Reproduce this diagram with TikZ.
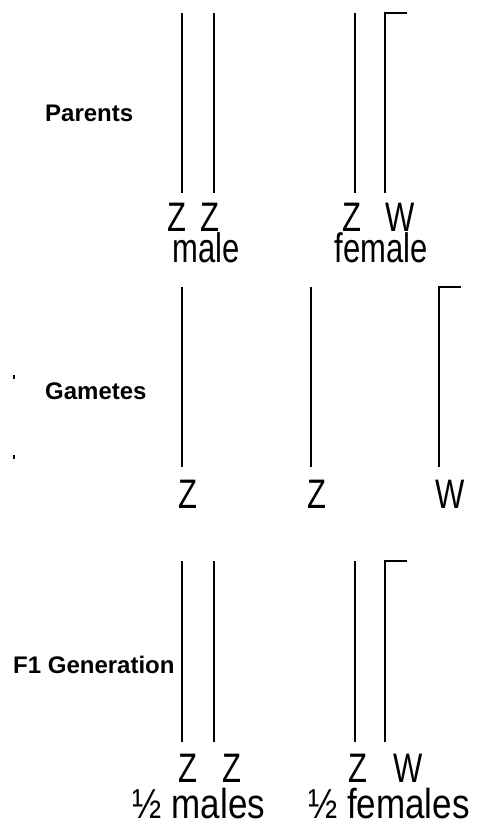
\documentclass[tikz,border=0pt]{standalone}
\usepackage{fontspec}
\setmainfont{Liberation Sans}
\usepackage{tikz}

\begin{document}
\begin{tikzpicture}[
    x=1pt, y=-1pt,
    stage/.style={anchor=base west, inner sep=0pt, font=\bfseries\fontsize{24}{24}\selectfont},
    allele/.style={anchor=base, inner sep=0pt, text depth=0pt, yscale=1.33, transform shape, font=\fontsize{31}{31}\selectfont},
    ratio/.style={allele, yscale=0.9, font=\fontsize{35}{35}\selectfont},
    chrom/.style={line width=1.1pt, black}
]
\useasboundingbox (0,0) rectangle (478,826);

% Stage labels
\node (parents) [stage] at (45,122) {Parents};
\node (gametes) [stage] at (45,399) {Gametes};
\node (fone) [stage] at (13,673) {F1 Generation};
\fill (13,375) rectangle (14.5,379);
\fill (13,455) rectangle (14.5,459);

% Parents
\node (pz1) [allele] at (177,231) {Z};
\node (pz2) [allele] at (210,231) {Z};
\node (pz3) [allele] at (352,231) {Z};
\node (pw) [allele] at (400,231) {W};
\node (male) [allele] at (206,262) {male};
\node (female) [allele] at (381,262) {female};

% Gametes
\node (gz1) [allele] at (188,508) {Z};
\node (gz2) [allele] at (317,508) {Z};
\node (gw) [allele] at (450,508) {W};

% F1 generation
\node (fz1) [allele] at (188,782) {Z};
\node (fz2) [allele] at (232,782) {Z};
\node (fz3) [allele] at (358,782) {Z};
\node (fw) [allele] at (408,782) {W};
\node (males) [ratio] at (199,818) {½ males};
\node (females) [ratio] at (389,818) {½ females};

% Chromosomes
\foreach \xa/\ya/\yb in {182/13/193, 214/13/193, 355/13/193,
                         182/287/467, 311/287/467,
                         182/561/742, 214/561/742, 355/561/742}
  \draw [chrom] (\xa,\ya) -- (\xa,\yb);
\foreach \xa/\ya/\yb in {385/13/193, 439/287/467, 385/561/742}
  \draw [chrom] (\xa,\yb) |- (\xa+22,\ya);

\end{tikzpicture}
\end{document}
